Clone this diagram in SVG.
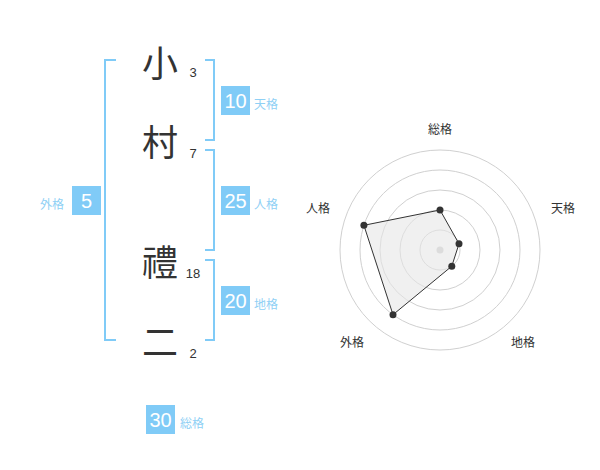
<svg xmlns="http://www.w3.org/2000/svg" width="600" height="470" viewBox="0 0 600 470">
<style>
.bk{fill:none;stroke:#80cbf7;stroke-width:2}
.box{fill:#80cbf7}
.num{font-family:"Liberation Sans",Arial,sans-serif;font-size:20px;fill:#fff;text-anchor:middle}
.lbl{font-family:"Noto Sans CJK JP","Noto Sans CJK SC",sans-serif;font-size:12px;fill:#8fd0f5}
.ch{font-family:"Noto Sans CJK JP","Noto Sans CJK SC",sans-serif;font-size:36px;fill:#333;text-anchor:middle;dominant-baseline:central}
.st{font-family:"Liberation Sans",Arial,sans-serif;font-size:13px;fill:#333;text-anchor:middle}
.ring{fill:none;stroke:#d0d0d0;stroke-width:1}
.rl{font-family:"Noto Sans CJK JP","Noto Sans CJK SC",sans-serif;font-size:12px;fill:#333;text-anchor:middle}
.pt{fill:#333}
</style>
<g id="name">
<g id="c1"><text class="ch" x="160" y="61">小</text><text class="st" x="193" y="77">3</text></g>
<g id="c2"><text class="ch" x="160" y="140">村</text><text class="st" x="193" y="158">7</text></g>
<g id="c3"><text class="ch" x="160" y="260">禮</text><text class="st" x="193" y="278">18</text></g>
<g id="c4"><text class="ch" x="160" y="340">二</text><text class="st" x="193" y="358">2</text></g>
</g>
<g id="connectors">
<path class="bk" d="M116,60 H105 V340 H116"/>
<path class="bk" d="M205,60 H214 V140 H205"/>
<path class="bk" d="M205,150 H214 V250 H205"/>
<path class="bk" d="M205,260 H214 V340 H205"/>
</g>
<g id="tenkaku"><rect class="box" x="221" y="86" width="29" height="29"/><text class="num" x="235.5" y="107.5">10</text><text class="lbl" x="254" y="109">天格</text></g>
<g id="jinkaku"><rect class="box" x="221" y="186" width="29" height="29"/><text class="num" x="235.5" y="207.5">25</text><text class="lbl" x="254" y="209">人格</text></g>
<g id="chikaku"><rect class="box" x="221" y="286" width="29" height="29"/><text class="num" x="235.5" y="307.5">20</text><text class="lbl" x="254" y="309">地格</text></g>
<g id="gaikaku"><rect class="box" x="72" y="186" width="29" height="29"/><text class="num" x="86.5" y="207.5">5</text><text class="lbl" x="40" y="209">外格</text></g>
<g id="soukaku"><rect class="box" x="146" y="405" width="29" height="29"/><text class="num" x="160.5" y="426.5">30</text><text class="lbl" x="180" y="428">総格</text></g>
<g id="radar">
<circle class="ring" cx="440" cy="250" r="20"/>
<circle class="ring" cx="440" cy="250" r="40"/>
<circle class="ring" cx="440" cy="250" r="60"/>
<circle class="ring" cx="440" cy="250" r="80"/>
<circle class="ring" cx="440" cy="250" r="100"/>
<circle cx="440" cy="250" r="3.5" fill="#cccccc"/>
<polygon points="440,210 459,243.8 451.8,266.2 393,314.7 363.9,225.3" fill="#e6e6e6" fill-opacity="0.6" stroke="#333" stroke-width="1"/>
<circle class="pt" cx="440" cy="210" r="3.5"/>
<circle class="pt" cx="459" cy="243.8" r="3.5"/>
<circle class="pt" cx="451.8" cy="266.2" r="3.5"/>
<circle class="pt" cx="393" cy="314.7" r="3.5"/>
<circle class="pt" cx="363.9" cy="225.3" r="3.5"/>
<text class="rl" x="440" y="134">総格</text>
<text class="rl" x="563" y="213">天格</text>
<text class="rl" x="523" y="347">地格</text>
<text class="rl" x="352" y="347">外格</text>
<text class="rl" x="318" y="213">人格</text>
</g>
</svg>
